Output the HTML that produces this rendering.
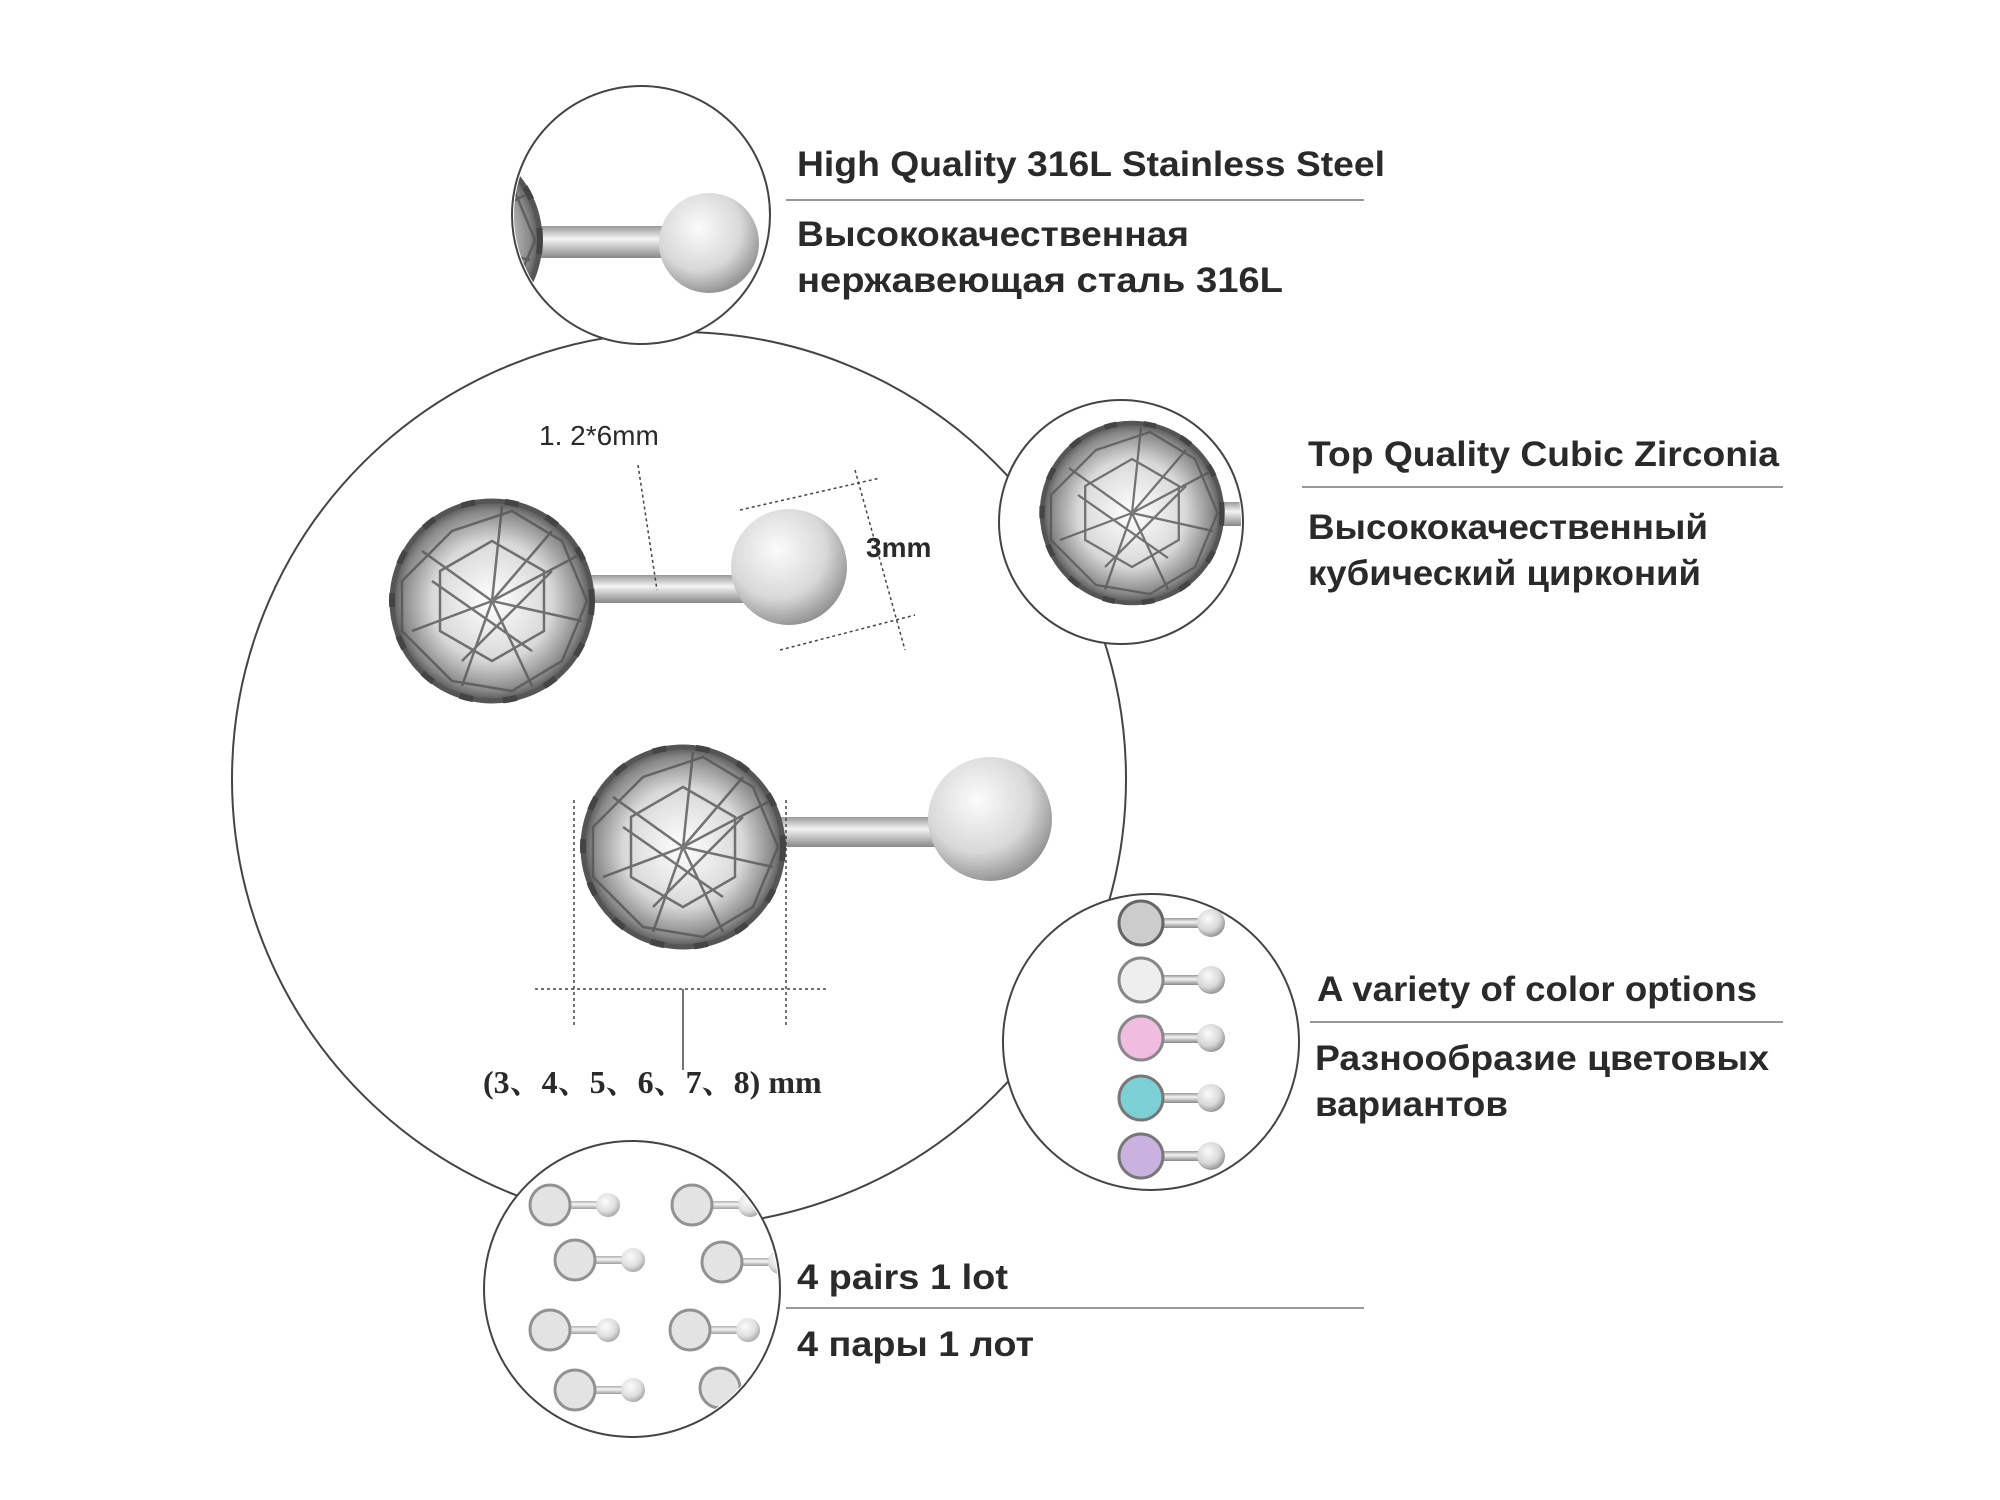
<!DOCTYPE html>
<html><head><meta charset="utf-8"><style>
html,body{margin:0;padding:0;background:#fff;}
svg{display:block}
text{font-family:"Liberation Sans",sans-serif;fill:#2a2a2a;}
</style></head><body>
<svg width="2000" height="1500" viewBox="0 0 2000 1500" xmlns="http://www.w3.org/2000/svg">
<defs>
<radialGradient id="ball" cx="0.4" cy="0.35" r="0.7"><stop offset="0" stop-color="#fbfbfb"/><stop offset="0.6" stop-color="#d8d8d8"/><stop offset="1" stop-color="#8a8a8a"/></radialGradient>
<linearGradient id="stick" x1="0" y1="0" x2="0" y2="1"><stop offset="0" stop-color="#999"/><stop offset="0.4" stop-color="#f4f4f4"/><stop offset="1" stop-color="#888"/></linearGradient>
<radialGradient id="gem" cx="0.5" cy="0.5" r="0.5"><stop offset="0" stop-color="#fff"/><stop offset="0.6" stop-color="#d8d8d8"/><stop offset="0.9" stop-color="#888"/><stop offset="1" stop-color="#555"/></radialGradient>
<g id="G">
<circle r="100" fill="url(#gem)" stroke="#555" stroke-width="5"/>
<g stroke="#555" stroke-width="2.5" fill="none" opacity="0.8">
<path d="M0,0 L60,-70 M0,0 L-70,-50 M0,0 L-80,30 M0,0 L-30,85 M0,0 L40,85 M0,0 L90,20 M0,0 L85,-45 M0,0 L10,-95 M-60,-20 L40,50 M-30,60 L60,-30"/>
<polygon points="0,-60 52,-30 52,30 0,60 -52,30 -52,-30"/>
<path d="M-90,-20 L-40,-70 L20,-90 L70,-60 L95,0 L70,60 L20,90 L-40,80 L-90,30 Z"/>
</g>
<circle r="100" fill="none" stroke="#444" stroke-width="6" stroke-dasharray="14 30"/>
</g>
</defs>

<g fill="#fff" stroke="#444" stroke-width="2">
<circle cx="679" cy="779" r="447"/>
<circle cx="641" cy="215" r="129"/>
<circle cx="1121" cy="522" r="122"/>
<circle cx="1151" cy="1042" r="148"/>
<circle cx="632" cy="1289" r="148"/>
</g>

<clipPath id="c1"><circle cx="641" cy="215" r="127"/></clipPath>
<g clip-path="url(#c1)">
<rect x="530" y="226" width="145" height="32" fill="url(#stick)"/>
<circle cx="709" cy="243" r="50" fill="url(#ball)"/>
<use href="#G" transform="translate(440,240)"/>
</g>

<clipPath id="c2"><circle cx="1121" cy="522" r="120"/></clipPath>
<g clip-path="url(#c2)">
<rect x="1200" y="502" width="50" height="24" fill="url(#stick)"/>
<use href="#G" transform="translate(1132,513) scale(0.9)"/>
</g>

<rect x="590" y="575" width="165" height="28" fill="url(#stick)"/>
<circle cx="789" cy="567" r="58" fill="url(#ball)"/>
<use href="#G" transform="translate(492,601)"/>
<rect x="780" y="817" width="180" height="30" fill="url(#stick)"/>
<circle cx="990" cy="819" r="62" fill="url(#ball)"/>
<use href="#G" transform="translate(683,847)"/>

<g stroke="#444" stroke-width="1.5" fill="none">
<line x1="638" y1="465" x2="657" y2="590" stroke-dasharray="3 3"/>
<line x1="740" y1="510" x2="880" y2="478" stroke-dasharray="3 3"/>
<line x1="780" y1="650" x2="915" y2="615" stroke-dasharray="3 3"/>
<line x1="855" y1="470" x2="905" y2="650" stroke-dasharray="3 3"/>
<line x1="574" y1="800" x2="574" y2="1028" stroke-dasharray="3 3"/>
<line x1="786" y1="800" x2="786" y2="1028" stroke-dasharray="3 3"/>
<line x1="535" y1="989" x2="829" y2="989" stroke-dasharray="3 3"/>
<line x1="683" y1="989" x2="683" y2="1070"/>
</g>
<text x="539" y="445" font-size="28" font-family="Liberation Serif">1. 2*6mm</text>
<text x="866" y="557" font-size="28" font-family="Liberation Serif" font-weight="bold">3mm</text>
<text x="483" y="1093" font-size="32" font-weight="bold" style="font-family:'Liberation Serif','Noto Serif CJK SC',serif">(3、4、5、6、7、8) mm</text>

<g>
<g transform="translate(1141,923)"><rect x="15" y="-5" width="50" height="10" fill="url(#stick)"/><circle cx="70" cy="0" r="14" fill="url(#ball)"/><circle r="22" fill="#ccc" stroke="#666" stroke-width="3"/></g>
<g transform="translate(1141,980)"><rect x="15" y="-5" width="50" height="10" fill="url(#stick)"/><circle cx="70" cy="0" r="14" fill="url(#ball)"/><circle r="22" fill="#eee" stroke="#888" stroke-width="3"/></g>
<g transform="translate(1141,1038)"><rect x="15" y="-5" width="50" height="10" fill="url(#stick)"/><circle cx="70" cy="0" r="14" fill="url(#ball)"/><circle r="22" fill="#f0bde0" stroke="#888" stroke-width="3"/></g>
<g transform="translate(1141,1098)"><rect x="15" y="-5" width="50" height="10" fill="url(#stick)"/><circle cx="70" cy="0" r="14" fill="url(#ball)"/><circle r="22" fill="#7dcfd6" stroke="#777" stroke-width="3"/></g>
<g transform="translate(1141,1156)"><rect x="15" y="-5" width="50" height="10" fill="url(#stick)"/><circle cx="70" cy="0" r="14" fill="url(#ball)"/><circle r="22" fill="#c9b2e0" stroke="#777" stroke-width="3"/></g>
</g>

<clipPath id="c5"><circle cx="632" cy="1289" r="146"/></clipPath>
<g clip-path="url(#c5)" opacity="0.8">
<g transform="translate(550,1205)"><rect x="12" y="-4" width="40" height="8" fill="url(#stick)"/><circle cx="58" r="12" fill="url(#ball)"/><circle r="20" fill="#ddd" stroke="#777" stroke-width="3"/></g>
<g transform="translate(692,1205)"><rect x="12" y="-4" width="40" height="8" fill="url(#stick)"/><circle cx="58" r="12" fill="url(#ball)"/><circle r="20" fill="#ddd" stroke="#777" stroke-width="3"/></g>
<g transform="translate(575,1260)"><rect x="12" y="-4" width="40" height="8" fill="url(#stick)"/><circle cx="58" r="12" fill="url(#ball)"/><circle r="20" fill="#ddd" stroke="#777" stroke-width="3"/></g>
<g transform="translate(722,1262)"><rect x="12" y="-4" width="40" height="8" fill="url(#stick)"/><circle cx="58" r="12" fill="url(#ball)"/><circle r="20" fill="#ddd" stroke="#777" stroke-width="3"/></g>
<g transform="translate(550,1330)"><rect x="12" y="-4" width="40" height="8" fill="url(#stick)"/><circle cx="58" r="12" fill="url(#ball)"/><circle r="20" fill="#ddd" stroke="#777" stroke-width="3"/></g>
<g transform="translate(690,1330)"><rect x="12" y="-4" width="40" height="8" fill="url(#stick)"/><circle cx="58" r="12" fill="url(#ball)"/><circle r="20" fill="#ddd" stroke="#777" stroke-width="3"/></g>
<g transform="translate(575,1390)"><rect x="12" y="-4" width="40" height="8" fill="url(#stick)"/><circle cx="58" r="12" fill="url(#ball)"/><circle r="20" fill="#ddd" stroke="#777" stroke-width="3"/></g>
<g transform="translate(720,1388)"><circle r="20" fill="#ddd" stroke="#777" stroke-width="3"/></g>
</g>

<g font-size="35" font-weight="bold">
<text x="797" y="176" textLength="588" lengthAdjust="spacingAndGlyphs">High Quality 316L Stainless Steel</text>
<text x="797" y="246" textLength="392" lengthAdjust="spacingAndGlyphs">Высококачественная</text>
<text x="797" y="292" textLength="486" lengthAdjust="spacingAndGlyphs">нержавеющая сталь 316L</text>
<text x="1308" y="466" textLength="471" lengthAdjust="spacingAndGlyphs">Top Quality Cubic Zirconia</text>
<text x="1308" y="539" textLength="400" lengthAdjust="spacingAndGlyphs">Высококачественный</text>
<text x="1308" y="585" textLength="393" lengthAdjust="spacingAndGlyphs">кубический цирконий</text>
<text x="1317" y="1001" textLength="440" lengthAdjust="spacingAndGlyphs">A variety of color options</text>
<text x="1315" y="1070" textLength="454" lengthAdjust="spacingAndGlyphs">Разнообразие цветовых</text>
<text x="1315" y="1116" textLength="193" lengthAdjust="spacingAndGlyphs">вариантов</text>
<text x="797" y="1289" textLength="211" lengthAdjust="spacingAndGlyphs">4 pairs 1 lot</text>
<text x="797" y="1356" textLength="237" lengthAdjust="spacingAndGlyphs">4 пары 1 лот</text>
</g>
<g stroke="#999" stroke-width="2">
<line x1="786" y1="200" x2="1364" y2="200"/>
<line x1="1302" y1="487" x2="1783" y2="487"/>
<line x1="1310" y1="1022" x2="1783" y2="1022"/>
<line x1="786" y1="1308" x2="1364" y2="1308"/>
</g>
</svg>
</body></html>
